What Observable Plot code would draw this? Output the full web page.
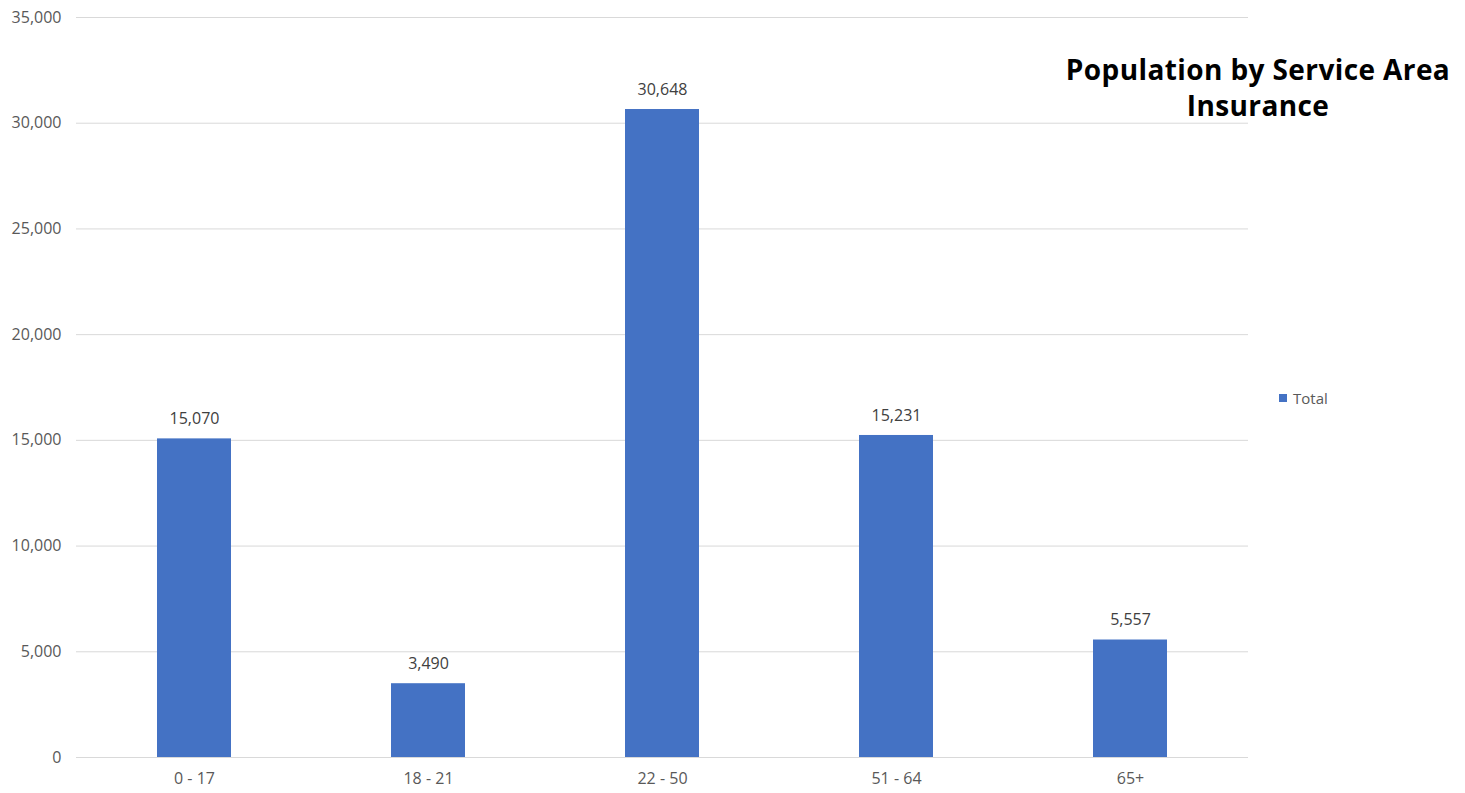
<!DOCTYPE html>
<html>
<head>
<meta charset="utf-8">
<script src="https://cdn.jsdelivr.net/npm/d3@7"></script>
<script src="https://cdn.jsdelivr.net/npm/@observablehq/plot@0.6"></script>
<style>
  html, body { margin: 0; padding: 0; background: #fff; }
  #wrap { position: relative; width: 1465px; height: 793px; font-family: "Open Sans", sans-serif; }
  #title {
    position: absolute; left: 1008px; top: 51px; width: 500px;
    text-align: center; font-weight: 700; font-size: 28px; line-height: 36px;
    letter-spacing: 0.4px; color: #000;
  }
  #legend {
    position: absolute; left: 1279px; top: 388px;
    font-size: 15px; color: #595959; line-height: 20px; display: flex; align-items: center;
  }
  #legend .sw { width: 8px; height: 8px; background: #4472C4; margin-right: 6px; }
</style>
</head>
<body>
<div id="wrap">
  <div id="chart"></div>
  <div id="title">Population by Service Area<br>Insurance</div>
  <div id="legend"><span class="sw"></span><span>Total</span></div>
</div>
<script>
// Age groups and their population totals
const ageGroups = ["0 - 17", "18 - 21", "22 - 50", "51 - 64", "65+"];
const totals = [15070, 3490, 30648, 15231, 5557];
const yTicks = [0, 5000, 10000, 15000, 20000, 25000, 30000, 35000];

const rows = ageGroups.map((g, i) => ({group: g, total: totals[i]}));
const fmt = d3.format(",");

const chart = Plot.plot({
  width: 1465,
  height: 793,
  marginLeft: 76,
  marginRight: 217,
  marginTop: 17,
  marginBottom: 36,
  style: {fontFamily: "'Open Sans', sans-serif", fontSize: "16px", color: "#595959", background: "#fff"},
  x: {domain: ageGroups, paddingInner: 0.684, paddingOuter: 0.342, label: null},
  y: {domain: [0, 35000], label: null},
  marks: [
    Plot.ruleY(yTicks, {stroke: "#d9d9d9", strokeWidth: 1}),
    Plot.barY(rows, {x: "group", y: "total", fill: "#4472C4"}),
    Plot.text(rows, {x: "group", y: "total", text: d => fmt(d.total), dy: -20, fill: "#404040", fontSize: 16}),
    Plot.axisY(yTicks, {tickSize: 0, tickPadding: 15, tickFormat: fmt, fill: "#595959", fontSize: 16, label: null}),
    Plot.axisX({tickSize: 0, tickPadding: 15, fill: "#595959", fontSize: 16, label: null})
  ]
});
document.getElementById("chart").appendChild(chart);
</script>
</body>
</html>
